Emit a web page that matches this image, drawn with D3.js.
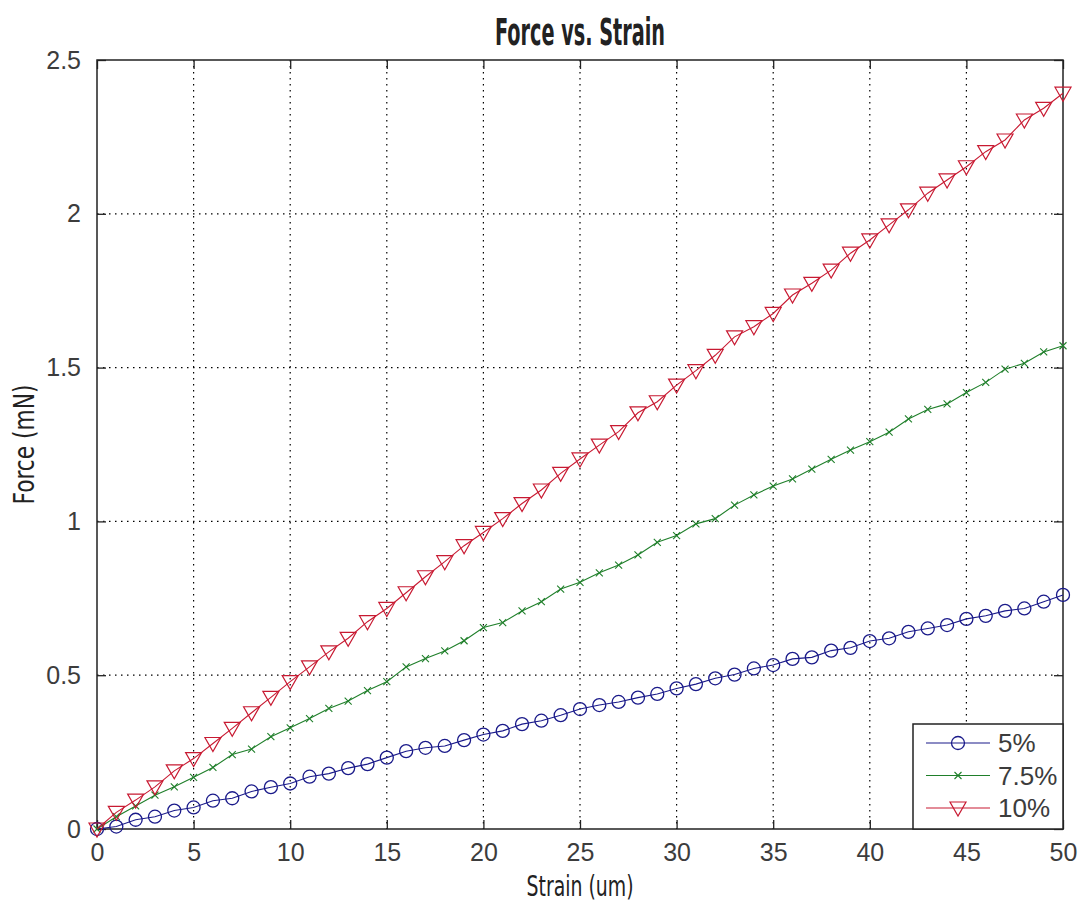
<!DOCTYPE html>
<html>
<head>
<meta charset="utf-8">
<script src="https://cdn.jsdelivr.net/npm/d3@7"></script>
<style>
  body { margin: 0; background: #fff; }
  svg { display: block; }
  .tick-label { font-family: "Liberation Sans", Arial, sans-serif; font-size: 25px; fill: #3c3c3c; }
  .lab { font-family: "Liberation Sans Narrow", "DejaVu Sans Condensed", sans-serif; fill: #222; }
</style>
</head>
<body>
<div id="chart"></div>
<script>
// strain (um), 0..50
const strain = [0, 1, 2, 3, 4, 5, 6, 7, 8, 9, 10, 11, 12, 13, 14, 15, 16, 17, 18, 19, 20,
  21, 22, 23, 24, 25, 26, 27, 28, 29, 30, 31, 32, 33, 34, 35, 36, 37, 38, 39, 40,
  41, 42, 43, 44, 45, 46, 47, 48, 49, 50];

// force (mN)
const force5 = [0, 0.008, 0.03, 0.04, 0.06, 0.07, 0.092, 0.10, 0.122, 0.136, 0.148,
  0.17, 0.18, 0.198, 0.211, 0.232, 0.253, 0.264, 0.27, 0.289, 0.307,
  0.319, 0.341, 0.352, 0.37, 0.39, 0.403, 0.413, 0.427, 0.439, 0.457,
  0.471, 0.49, 0.502, 0.522, 0.533, 0.553, 0.558, 0.58, 0.589, 0.611,
  0.62, 0.641, 0.652, 0.663, 0.683, 0.693, 0.709, 0.717, 0.739, 0.761];

const force75 = [0, 0.04, 0.075, 0.11, 0.137, 0.168, 0.2, 0.242, 0.26, 0.3, 0.329,
  0.359, 0.392, 0.416, 0.45, 0.479, 0.527, 0.554, 0.579, 0.612, 0.655,
  0.671, 0.709, 0.739, 0.78, 0.802, 0.833, 0.858, 0.891, 0.932, 0.954,
  0.992, 1.009, 1.053, 1.086, 1.115, 1.138, 1.17, 1.202, 1.232, 1.259,
  1.29, 1.333, 1.364, 1.382, 1.419, 1.452, 1.495, 1.514, 1.551, 1.571];

const force10 = [0, 0.054, 0.094, 0.137, 0.189, 0.229, 0.278, 0.327, 0.378, 0.428, 0.479,
  0.527, 0.576, 0.62, 0.674, 0.717, 0.768, 0.82, 0.869, 0.921, 0.964,
  1.009, 1.058, 1.102, 1.156, 1.203, 1.248, 1.292, 1.353, 1.389, 1.443,
  1.49, 1.54, 1.6, 1.633, 1.676, 1.736, 1.774, 1.817, 1.872, 1.915,
  1.964, 2.013, 2.067, 2.11, 2.153, 2.202, 2.24, 2.305, 2.343, 2.392];

const seriesNames = ['5%', '7.5%', '10%'];
const xTicks = [0, 5, 10, 15, 20, 25, 30, 35, 40, 45, 50];
const yTicks = [0, 0.5, 1, 1.5, 2, 2.5];

const W = 1083, H = 902;
const margin = { top: 60, right: 20, bottom: 73, left: 97 };
const width = W - margin.left - margin.right;
const height = H - margin.top - margin.bottom;

const series = [
  { name: seriesNames[0], values: force5, color: '#1a1a8a', marker: 'circle' },
  { name: seriesNames[1], values: force75, color: '#1f7f2a', marker: 'x' },
  { name: seriesNames[2], values: force10, color: '#c81a32', marker: 'tri' }
];

const svg = d3.select('#chart').append('svg')
  .attr('width', W)
  .attr('height', H);

const x = d3.scaleLinear().domain([0, 50]).range([0, width]);
const y = d3.scaleLinear().domain([0, 2.5]).range([height, 0]);

const g = svg.append('g')
  .attr('transform', `translate(${margin.left},${margin.top})`);

// grid
g.append('g').selectAll('line')
  .data(xTicks.slice(1, -1))
  .join('line')
  .attr('x1', (d) => x(d)).attr('x2', (d) => x(d))
  .attr('y1', 0).attr('y2', height)
  .attr('stroke', '#000').attr('stroke-width', 1.2)
  .attr('stroke-dasharray', '1.5,4.5');

g.append('g').selectAll('line')
  .data(yTicks.slice(1, -1))
  .join('line')
  .attr('y1', (d) => y(d)).attr('y2', (d) => y(d))
  .attr('x1', 0).attr('x2', width)
  .attr('stroke', '#000').attr('stroke-width', 1.2)
  .attr('stroke-dasharray', '1.5,4.5');

// axes with inward ticks on all four sides
const tl = 9;
const xAxis = d3.axisBottom(x).tickValues(xTicks).tickSizeInner(-tl).tickSizeOuter(0).tickPadding(14);
const yAxis = d3.axisLeft(y).tickValues(yTicks).tickSizeInner(-tl).tickSizeOuter(0).tickPadding(16)
  .tickFormat((d) => String(d));

const gx = g.append('g').attr('transform', `translate(0,${height})`).call(xAxis);
const gy = g.append('g').call(yAxis);
g.append('g').call(d3.axisTop(x).tickValues(xTicks).tickSizeInner(-tl).tickSizeOuter(0).tickFormat(''));
g.append('g').attr('transform', `translate(${width},0)`)
  .call(d3.axisRight(y).tickValues(yTicks).tickSizeInner(-tl).tickSizeOuter(0).tickFormat(''));

g.selectAll('.domain').remove();
g.selectAll('.tick line').attr('stroke', '#222').attr('stroke-width', 1.3);
gx.selectAll('text').attr('class', 'tick-label').attr('dy', '0.71em');
gy.selectAll('text').attr('class', 'tick-label');

g.append('rect')
  .attr('width', width).attr('height', height)
  .attr('fill', 'none').attr('stroke', '#222').attr('stroke-width', 1.5);

// markers
const drawMarker = (sel, type, color) => {
  if (type === 'circle') {
    sel.append('circle').attr('r', 6.5)
      .attr('fill', 'none').attr('stroke', color).attr('stroke-width', 1.3);
  } else if (type === 'x') {
    sel.append('path').attr('d', 'M-3.5,-3.5L3.5,3.5M-3.5,3.5L3.5,-3.5')
      .attr('fill', 'none').attr('stroke', color).attr('stroke-width', 1.1);
  } else {
    sel.append('path').attr('d', 'M-8,-6L8,-6L0,8Z')
      .attr('fill', 'none').attr('stroke', color).attr('stroke-width', 1.2);
  }
};

const line = d3.line()
  .x((d, i) => x(strain[i]))
  .y((d) => y(d));

series.forEach((s) => {
  g.append('path')
    .datum(s.values)
    .attr('fill', 'none')
    .attr('stroke', s.color)
    .attr('stroke-width', 1.1)
    .attr('d', line);

  g.append('g').selectAll('g')
    .data(s.values)
    .join('g')
    .attr('transform', (d, i) => `translate(${x(strain[i])},${y(d)})`)
    .each(function () { drawMarker(d3.select(this), s.marker, s.color); });
});

// legend
const lg = svg.append('g').attr('transform', 'translate(913,724)');
lg.append('rect')
  .attr('width', 150).attr('height', 105)
  .attr('fill', '#fff').attr('stroke', '#222').attr('stroke-width', 1.5);

series.forEach((s, i) => {
  const row = lg.append('g').attr('transform', `translate(0,${19 + i * 32.5})`);
  row.append('line')
    .attr('x1', 13).attr('x2', 77).attr('y1', 0).attr('y2', 0)
    .attr('stroke', s.color).attr('stroke-width', 1.1);
  const m = row.append('g').attr('transform', 'translate(45,0)');
  drawMarker(m, s.marker, s.color);
  row.append('text')
    .attr('class', 'tick-label')
    .attr('x', 85).attr('y', 0).attr('dy', '0.36em')
    .style('font-size', '26px')
    .text(s.name);
});

// title and axis labels
svg.append('text')
  .attr('class', 'lab')
  .attr('x', margin.left + width / 2).attr('y', 45)
  .attr('text-anchor', 'middle')
  .attr('font-weight', 'bold')
  .attr('font-size', 37)
  .attr('textLength', 170).attr('lengthAdjust', 'spacingAndGlyphs')
  .text('Force vs. Strain');

svg.append('text')
  .attr('class', 'lab')
  .attr('x', margin.left + width / 2).attr('y', 896)
  .attr('text-anchor', 'middle')
  .attr('font-size', 28)
  .attr('textLength', 107).attr('lengthAdjust', 'spacingAndGlyphs')
  .text('Strain (um)');

svg.append('text')
  .attr('class', 'lab')
  .attr('transform', `translate(34,${margin.top + height / 2}) rotate(-90)`)
  .attr('text-anchor', 'middle')
  .attr('font-size', 28)
  .attr('textLength', 120).attr('lengthAdjust', 'spacingAndGlyphs')
  .text('Force (mN)');
</script>
</body>
</html>
